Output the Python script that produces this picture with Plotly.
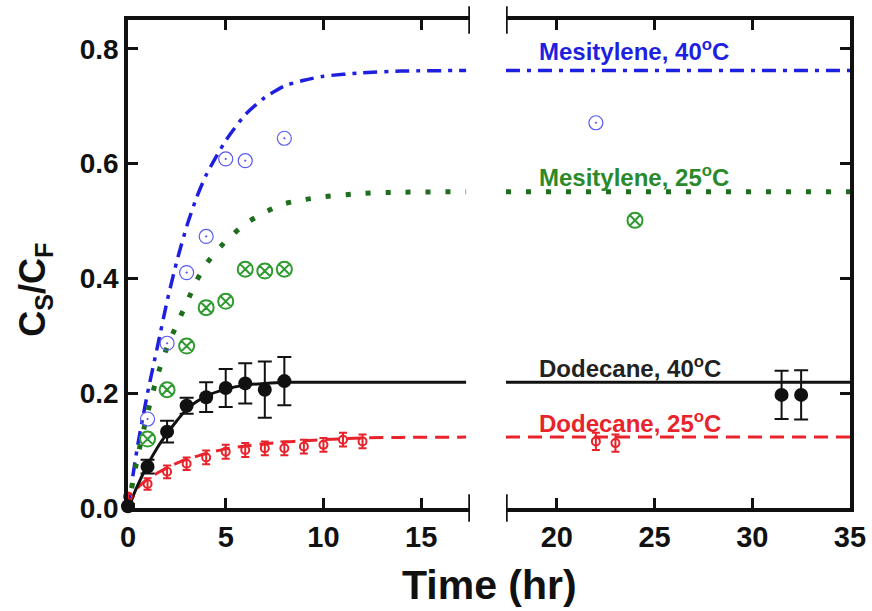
import plotly.graph_objects as go

# ---------------- data ----------------
# Axis ranges of the broken time axis
left_range = [0, 17.5]
right_range = [17.4, 35]
y_range = [0, 0.85]

# Model curves (left panel samples)
curve_t = [0, 0.5, 1, 1.5, 2, 2.5, 3, 3.5, 4, 5, 6, 7, 8, 9, 10, 12, 14, 17.3]
mes40_curve = [0.0, 0.11, 0.20, 0.28, 0.36, 0.43, 0.49, 0.54, 0.58, 0.64, 0.685, 0.715, 0.735,
               0.745, 0.752, 0.758, 0.761, 0.762]
mes25_curve = [0.0, 0.09, 0.165, 0.23, 0.28, 0.32, 0.357, 0.395, 0.425, 0.465, 0.495, 0.515, 0.53,
               0.537, 0.542, 0.548, 0.55, 0.551]
dod40_curve = [0.0, 0.04, 0.075, 0.105, 0.13, 0.152, 0.172, 0.185, 0.195, 0.207, 0.214, 0.217, 0.219,
               0.219, 0.219, 0.219, 0.219, 0.219]
dod25_curve = [0.0, 0.035, 0.05, 0.061, 0.07, 0.078, 0.085, 0.09, 0.095, 0.103, 0.108, 0.112, 0.115,
               0.117, 0.119, 0.122, 0.123, 0.1235]

# Model curves (right panel: plateaus)
right_t = [17.4, 35]
mes40_plateau = [0.762, 0.762]
mes25_plateau = [0.551, 0.551]
dod40_plateau = [0.219, 0.219]
dod25_plateau = [0.1235, 0.1235]

# Mesitylene 40 C data
mes40_t = [1, 2, 3, 4, 5, 6, 8]
mes40_y = [0.155, 0.287, 0.41, 0.473, 0.608, 0.605, 0.644]
mes40_t_r = [22]
mes40_y_r = [0.671]

# Mesitylene 25 C data
mes25_t = [1, 2, 3, 4, 5, 6, 7, 8]
mes25_y = [0.12, 0.206, 0.282, 0.349, 0.36, 0.416, 0.413, 0.416]
mes25_t_r = [24]
mes25_y_r = [0.501]

# Dodecane 40 C data
dod40_t = [0, 1, 2, 3, 4, 5, 6, 7, 8]
dod40_y = [0.003, 0.072, 0.133, 0.178, 0.193, 0.209, 0.217, 0.206, 0.221]
dod40_err = [0.004, 0.012, 0.019, 0.014, 0.026, 0.033, 0.035, 0.049, 0.042]
dod40_t_r = [31.5, 32.5]
dod40_y_r = [0.197, 0.197]
dod40_err_r = [0.042, 0.043]

# Dodecane 25 C data
dod25_t = [0, 1, 2, 3, 4, 5, 6, 7, 8, 9, 10, 11, 12]
dod25_y = [0.02, 0.042, 0.063, 0.077, 0.088, 0.098, 0.101, 0.104, 0.104, 0.107, 0.11, 0.119, 0.116]
dod25_err = [0.005, 0.01, 0.011, 0.011, 0.012, 0.012, 0.012, 0.012, 0.012, 0.012, 0.012, 0.012, 0.012]
dod25_t_r = [22, 23]
dod25_y_r = [0.116, 0.113]
dod25_err_r = [0.015, 0.015]

left_ticks = [0, 5, 10, 15]
right_ticks = [20, 25, 30, 35]
y_ticks = [0.0, 0.2, 0.4, 0.6, 0.8]

labels = ["Mesitylene, 40<sup>o</sup>C", "Mesitylene, 25<sup>o</sup>C",
          "Dodecane, 40<sup>o</sup>C", "Dodecane, 25<sup>o</sup>C"]
label_y = [0.797, 0.578, 0.246, 0.150]
label_x = 19.0

# ---------------- styles ----------------
BLUE = "#1f1fe0"
BLUE_M = "#5a5af2"
GREEN = "#1d6e1d"
GREEN_M = "#2f9a2f"
RED = "#e8232b"
BLACK = "#111111"
FONT = "Liberation Sans, Arial, sans-serif"

fig = go.Figure()

def curve(x, y, color, dash, width, xa, ya):
    fig.add_trace(go.Scatter(x=x, y=y, mode="lines", line=dict(color=color, dash=dash, width=width,
                             shape="spline", smoothing=0.6),
                             xaxis=xa, yaxis=ya, showlegend=False, hoverinfo="skip"))

for xa, ya, t, (a, b, c, d) in [("x", "y", curve_t, (mes40_curve, mes25_curve, dod40_curve, dod25_curve)),
                                ("x2", "y2", right_t, (mes40_plateau, mes25_plateau, dod40_plateau, dod25_plateau))]:
    curve(t, a, BLUE, "14px,7px,4px,7px", 3.5, xa, ya)
    curve(t, b, GREEN, "5px,15px", 5, xa, ya)
    curve(t, d, RED, "14px,8px", 3, xa, ya)
    curve(t, c, BLACK, "solid", 3, xa, ya)

def pts(x, y, xa, ya, marker, err=None, errcolor=None, errw=6, errthick=2):
    kw = {}
    if err is not None:
        kw["error_y"] = dict(type="data", array=err, visible=True, color=errcolor,
                             thickness=errthick, width=errw)
    fig.add_trace(go.Scatter(x=x, y=y, mode="markers", marker=marker, xaxis=xa, yaxis=ya,
                             showlegend=False, cliponaxis=False, **kw))

m_blue = dict(symbol="circle-open-dot", size=14, color=BLUE_M, line=dict(width=1.2, color=BLUE_M))
m_green = dict(symbol="circle-x-open", size=15, color=GREEN_M, line=dict(width=2, color=GREEN_M))
m_red = dict(symbol="circle-open", size=8, color=RED, line=dict(width=2, color=RED))
m_black = dict(symbol="circle", size=14, color=BLACK)

pts(mes40_t, mes40_y, "x", "y", m_blue)
pts(mes40_t_r, mes40_y_r, "x2", "y2", m_blue)
pts(mes25_t, mes25_y, "x", "y", m_green)
pts(mes25_t_r, mes25_y_r, "x2", "y2", m_green)
pts(dod25_t, dod25_y, "x", "y", m_red, dod25_err, RED, 4, 2)
pts(dod25_t_r, dod25_y_r, "x2", "y2", m_red, dod25_err_r, RED, 4, 2)
pts(dod40_t, dod40_y, "x", "y", m_black, dod40_err, BLACK, 7, 2)
pts(dod40_t_r, dod40_y_r, "x2", "y2", m_black, dod40_err_r, BLACK, 7, 2)

axis_common = dict(showline=True, linecolor=BLACK, linewidth=3.5, ticks="inside", ticklen=10,
                   tickwidth=3, tickcolor=BLACK, showgrid=False, zeroline=False, automargin=False)

fig.update_layout(
    width=872, height=611,
    margin=dict(l=128, r=22, t=20, b=103),
    paper_bgcolor="white", plot_bgcolor="white",
    xaxis=dict(domain=[0, 0.4737], range=left_range, tickvals=left_ticks, mirror="ticks",
               tickfont=dict(family=FONT, size=29, color=BLACK, weight="bold"), anchor="y",
               **axis_common),
    xaxis2=dict(domain=[0.5235, 1], range=right_range, tickvals=right_ticks, mirror="ticks",
                tickfont=dict(family=FONT, size=29, color=BLACK, weight="bold"), anchor="y2",
                **axis_common),
    yaxis=dict(range=y_range, tickvals=y_ticks, tickformat=".1f", anchor="x",
               tickfont=dict(family=FONT, size=28, color=BLACK, weight="bold"), **axis_common),
    yaxis2=dict(range=y_range, tickvals=y_ticks, matches="y", anchor="x2", side="right",
                showticklabels=False, **axis_common),
)

# break caps at the ends of the two panels
for xr, xv in [("x", left_range[1]), ("x2", right_range[0])]:
    for y0, y1 in [(-0.028, 0.028), (0.972, 1.028)]:
        fig.add_shape(type="line", xref=xr, yref="paper", x0=xv, x1=xv, y0=y0, y1=y1,
                      line=dict(color=BLACK, width=3.5))

for txt, yy, col in zip(labels, label_y, [BLUE, "#2a8a2a", "#222222", RED]):
    fig.add_annotation(x=label_x, y=yy, xref="x2", yref="y2", text=txt, showarrow=False,
                       xanchor="left", yanchor="middle",
                       font=dict(family=FONT, size=24, color=col, weight="bold"))

fig.add_annotation(x=0.5, y=-0.158, xref="paper", yref="paper", text="Time (hr)", showarrow=False,
                   xanchor="center", yanchor="middle",
                   font=dict(family=FONT, size=41, color=BLACK, weight="bold"))
fig.add_annotation(x=-0.129, y=0.447, xref="paper", yref="paper",
                   text="C<sub>S</sub>/C<sub>F</sub>", showarrow=False, textangle=-90,
                   xanchor="center", yanchor="middle",
                   font=dict(family=FONT, size=36, color=BLACK, weight="bold"))

fig.write_html("out.html", config={"displayModeBar": False},
               post_script="document.body.style.margin='0';document.body.style.overflow='hidden';")
